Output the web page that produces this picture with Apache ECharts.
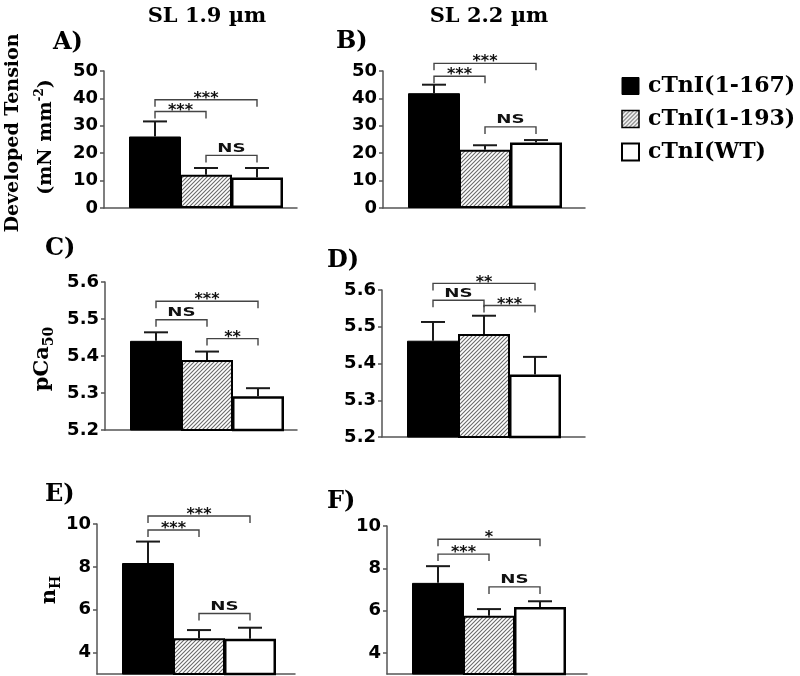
<!DOCTYPE html>
<html>
<head>
<meta charset="utf-8">
<script src="https://cdn.jsdelivr.net/npm/echarts@6/dist/echarts.min.js"></script>
<style>html,body{margin:0;padding:0;background:#fff}#c{width:800px;height:676px}</style>
</head>
<body>
<div id="c"></div>
<script>
// ---------- data ----------
const seriesNames = ['cTnI(1-167)', 'cTnI(1-193)', 'cTnI(WT)'];
const columnTitles = ['SL 1.9 µm', 'SL 2.2 µm'];
const panelLabels = ['A)', 'B)', 'C)', 'D)', 'E)', 'F)'];
const groupPositions = [1, 2, 3];

// Developed tension (mN mm-2)
const tensionSL19 = [26.1, 12.1, 11.1];
const tensionSL19Err = [5.5, 2.5, 3.5];
const tensionSL22 = [41.9, 21.3, 23.9];
const tensionSL22Err = [3.1, 1.6, 0.9];
// pCa50
const pCa50SL19 = [5.441, 5.389, 5.291];
const pCa50SL19Err = [0.023, 0.023, 0.022];
const pCa50SL22 = [5.462, 5.480, 5.370];
const pCa50SL22Err = [0.051, 0.050, 0.048];
// nH
const nHSL19 = [8.18, 4.67, 4.65];
const nHSL19Err = [1.0, 0.38, 0.51];
const nHSL22 = [7.31, 5.75, 6.17];
const nHSL22Err = [0.79, 0.32, 0.27];

// significance brackets: [from group, to group, bracket level (axis units), label]
const sigA = [[1, 3, 39.5, '***'], [1, 2, 35.2, '***'], [2, 3, 19.2, 'NS']];
const sigB = [[1, 3, 52.8, '***'], [1, 2, 48.1, '***'], [2, 3, 29.6, 'NS']];
const sigC = [[1, 3, 5.548, '***'], [1, 2, 5.498, 'NS'], [2, 3, 5.447, '**']];
const sigD = [[1, 3, 5.618, '**'], [1, 2, 5.572, 'NS'], [2, 3, 5.558, '***']];
const sigE = [[1, 3, 10.37, '***'], [1, 2, 9.72, '***'], [2, 3, 5.82, 'NS']];
const sigF = [[1, 3, 9.37, '*'], [1, 2, 8.67, '***'], [2, 3, 7.12, 'NS']];

// axis ticks
const tensionTicks = [0, 10, 20, 30, 40, 50];
const pCaTicks = [5.2, 5.3, 5.4, 5.5, 5.6];
const nHTicks = [4, 6, 8, 10];
const nHAxisMin = 3;

// ---------- layout / style ----------
const panels = [
  { means: tensionSL19, errs: tensionSL19Err, sig: sigA, ticks: tensionTicks, min: tensionTicks[0], max: 50, dec: 0 },
  { means: tensionSL22, errs: tensionSL22Err, sig: sigB, ticks: tensionTicks, min: tensionTicks[0], max: 50, dec: 0 },
  { means: pCa50SL19, errs: pCa50SL19Err, sig: sigC, ticks: pCaTicks, min: 5.2, max: 5.6, dec: 1 },
  { means: pCa50SL22, errs: pCa50SL22Err, sig: sigD, ticks: pCaTicks, min: 5.2, max: 5.6, dec: 1 },
  { means: nHSL19, errs: nHSL19Err, sig: sigE, ticks: nHTicks, min: nHAxisMin, max: 10, dec: 0 },
  { means: nHSL22, errs: nHSL22Err, sig: sigF, ticks: nHTicks, min: nHAxisMin, max: 10, dec: 0 }
];
const grids = [
  { left: 104, top: 71, width: 193, height: 137 },
  { left: 383, top: 71, width: 202, height: 137 },
  { left: 105, top: 282, width: 192, height: 148 },
  { left: 382, top: 290, width: 203, height: 147 },
  { left: 97, top: 524, width: 198, height: 150 },
  { left: 387, top: 526, width: 200, height: 148 }
];
const PX_PER_GROUP = 51;
const BAR_W = 52;
const labelPos = [[53, 43], [336, 42], [45, 249], [327, 261], [45, 495], [327, 502]];

const hatch = (function () {
  const c = document.createElement('canvas');
  c.width = 4; c.height = 4;
  const g = c.getContext('2d');
  g.fillStyle = '#ffffff'; g.fillRect(0, 0, 4, 4);
  g.strokeStyle = '#6a6a6a'; g.lineWidth = 1.1;
  g.beginPath();
  g.moveTo(-1, 5); g.lineTo(5, -1);
  g.moveTo(-1, 1); g.lineTo(1, -1);
  g.moveTo(3, 5); g.lineTo(5, 3);
  g.stroke();
  return c;
})();

const barStyles = [
  { color: '#000', borderColor: '#000', borderWidth: 1 },
  { color: { image: hatch, repeat: 'repeat' }, borderColor: '#000', borderWidth: 2 },
  { color: '#fff', borderColor: '#000', borderWidth: 2.5 }
];
const axisColor = '#555';
const SANS = '"DejaVu Sans", "Liberation Sans", Arial, sans-serif';
const SERIF = '"DejaVu Serif", "Liberation Serif", "Times New Roman", serif';

const xAxes = [], yAxes = [], series = [];
panels.forEach(function (p, i) {
  xAxes.push({
    type: 'value', gridIndex: i, min: 0, max: grids[i].width / PX_PER_GROUP,
    axisLine: { show: true, onZero: false, lineStyle: { color: axisColor, width: 1.5 } },
    axisTick: { show: false }, axisLabel: { show: false }, splitLine: { show: false }
  });
  yAxes.push({
    type: 'value', gridIndex: i, min: p.min, max: p.max,
    axisLine: { show: true, onZero: false, lineStyle: { color: axisColor, width: 1.5 } },
    axisTick: { show: true, length: 4, customValues: p.ticks, lineStyle: { color: axisColor, width: 1.5 } },
    axisLabel: {
      customValues: p.ticks, margin: 6, color: '#000',
      fontFamily: SANS, fontWeight: 'bold', fontSize: 18,
      formatter: (function (d) { return function (v) { return Number(v).toFixed(d); }; })(p.dec)
    },
    splitLine: { show: false }
  });
  seriesNames.forEach(function (name, g) {
    series.push({
      type: 'bar', name: name, xAxisIndex: i, yAxisIndex: i,
      barWidth: BAR_W, barGap: '-100%', silent: true,
      data: [[groupPositions[g], p.means[g]]],
      itemStyle: barStyles[g]
    });
  });
  series.push({
    type: 'custom', xAxisIndex: i, yAxisIndex: i, silent: true, z: 4, clip: false,
    encode: { x: 0, y: [1, 2] },
    data: p.means.map(function (m, g) { return [groupPositions[g], m, m + p.errs[g]]; }),
    renderItem: function (params, api) {
      const x = api.value(0);
      const lo = api.coord([x, api.value(1)]);
      const hi = api.coord([x, api.value(2)]);
      const half = 12;
      return {
        type: 'group', children: [
          { type: 'line', shape: { x1: lo[0], y1: lo[1], x2: hi[0], y2: hi[1] }, style: { stroke: '#1a1a1a', lineWidth: 2 } },
          { type: 'line', shape: { x1: hi[0] - half, y1: hi[1], x2: hi[0] + half, y2: hi[1] }, style: { stroke: '#1a1a1a', lineWidth: 2 } }
        ]
      };
    }
  });
  series.push({
    type: 'custom', xAxisIndex: i, yAxisIndex: i, silent: true, z: 5, clip: false,
    encode: { x: [0, 1], y: 2 },
    data: p.sig.map(function (s) { return [groupPositions[s[0] - 1], groupPositions[s[1] - 1], s[2]]; }),
    renderItem: (function (sig) {
      return function (params, api) {
        const p1 = api.coord([api.value(0), api.value(2)]);
        const p2 = api.coord([api.value(1), api.value(2)]);
        const drop = 7;
        const label = sig[params.dataIndex][3];
        const isStar = label.indexOf('*') >= 0;
        return {
          type: 'group', children: [
            { type: 'polyline', shape: { points: [[p1[0], p1[1] + drop], [p1[0], p1[1]], [p2[0], p2[1]], [p2[0], p2[1] + drop]] },
              style: { stroke: '#444', lineWidth: 1.4, fill: null } },
            { type: 'text', x: (p1[0] + p2[0]) / 2, y: isStar ? p1[1] - 1 : p1[1] - 7,
              scaleX: isStar ? 1 : 1.4,
              style: { text: label, fill: '#111', align: 'center', verticalAlign: 'middle',
                fontFamily: SANS, fontWeight: 'bold', fontSize: isStar ? 16 : 13 } }
          ]
        };
      };
    })(p.sig)
  });
});

const graphics = [
  { type: 'text', x: 207, y: 17, style: { text: columnTitles[0], fill: '#000', align: 'center', verticalAlign: 'middle', fontFamily: SERIF, fontWeight: 'bold', fontSize: 21 } },
  { type: 'text', x: 489, y: 17, style: { text: columnTitles[1], fill: '#000', align: 'center', verticalAlign: 'middle', fontFamily: SERIF, fontWeight: 'bold', fontSize: 21 } },
  { type: 'text', x: 13, y: 133, rotation: Math.PI / 2, style: { text: 'Developed Tension', fill: '#000', align: 'center', verticalAlign: 'middle', fontFamily: SERIF, fontWeight: 'bold', fontSize: 19 } },
  { type: 'text', x: 46, y: 137, rotation: Math.PI / 2, style: {
      text: '{m|(mN mm}{s|-2}{m|)}', align: 'center', verticalAlign: 'middle',
      rich: { m: { fill: '#000', fontFamily: SERIF, fontWeight: 'bold', fontSize: 19, lineHeight: 24 },
              s: { fill: '#000', fontFamily: SERIF, fontWeight: 'bold', fontSize: 12, lineHeight: 12, verticalAlign: 'top' } } } },
  { type: 'text', x: 43, y: 359, rotation: Math.PI / 2, style: {
      text: '{m|pCa}{s|50}', align: 'center', verticalAlign: 'middle',
      rich: { m: { fill: '#000', fontFamily: SERIF, fontWeight: 'bold', fontSize: 21, lineHeight: 26 },
              s: { fill: '#000', fontFamily: SERIF, fontWeight: 'bold', fontSize: 14, lineHeight: 14, verticalAlign: 'bottom' } } } },
  { type: 'text', x: 50, y: 590, rotation: Math.PI / 2, style: {
      text: '{m|n}{s|H}', align: 'center', verticalAlign: 'middle',
      rich: { m: { fill: '#000', fontFamily: SERIF, fontWeight: 'bold', fontSize: 21, lineHeight: 26 },
              s: { fill: '#000', fontFamily: SERIF, fontWeight: 'bold', fontSize: 14, lineHeight: 14, verticalAlign: 'bottom' } } } }
];
panelLabels.forEach(function (t, i) {
  graphics.push({ type: 'text', x: labelPos[i][0], y: labelPos[i][1], style: { text: t, fill: '#000', align: 'left', verticalAlign: 'middle', fontFamily: SERIF, fontWeight: 'bold', fontSize: 24 } });
});

const chart = echarts.init(document.getElementById('c'), null, { renderer: 'canvas' });
chart.setOption({
  animation: false,
  backgroundColor: '#fff',
  grid: grids,
  xAxis: xAxes,
  yAxis: yAxes,
  legend: {
    orient: 'vertical', left: 616, top: 70,
    itemWidth: 17, itemHeight: 17, itemGap: 11, selectedMode: false,
    icon: 'rect',
    textStyle: { fontFamily: SERIF, fontWeight: 'bold', fontSize: 22, lineHeight: 21, color: '#000', padding: [0, 0, 0, 4] },
    data: [
      { name: seriesNames[0], itemStyle: { color: '#000', borderColor: '#000', borderWidth: 1 } },
      { name: seriesNames[1], itemStyle: { color: { image: hatch, repeat: 'repeat' }, borderColor: '#000', borderWidth: 1.5 } },
      { name: seriesNames[2], itemStyle: { color: '#fff', borderColor: '#000', borderWidth: 2 } }
    ]
  },
  graphic: graphics,
  series: series
});
</script>
</body>
</html>
